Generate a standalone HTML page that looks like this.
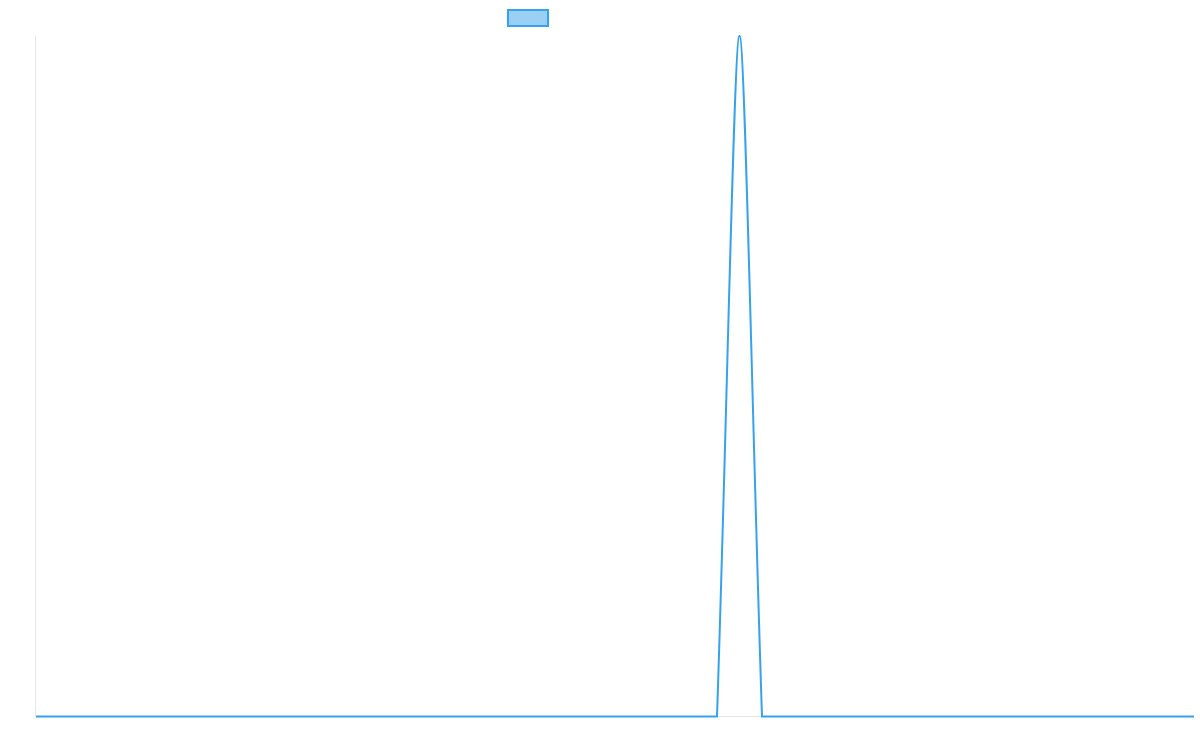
<!DOCTYPE html>
<html><head><style>html,body{margin:0;padding:0;background:#fff}</style></head>
<body>
<svg width="1200" height="750" xmlns="http://www.w3.org/2000/svg">
<rect x="508" y="10" width="40" height="16" fill="#9ad0f5" stroke="#36a2eb" stroke-width="2"/>
<line x1="35.5" y1="36" x2="35.5" y2="717" stroke="#e5e5e5" stroke-width="1"/>
<line x1="35" y1="716.5" x2="1194" y2="716.5" stroke="#e5e5e5" stroke-width="1"/>
<path fill="none" stroke="#36a2eb" stroke-width="2" d="M36,716.5 L717,716.5 C727,420 734,36 739.5,36 C745,36 752,420 762,716.5 L1194,716.5"/>
</svg>
</body></html>
